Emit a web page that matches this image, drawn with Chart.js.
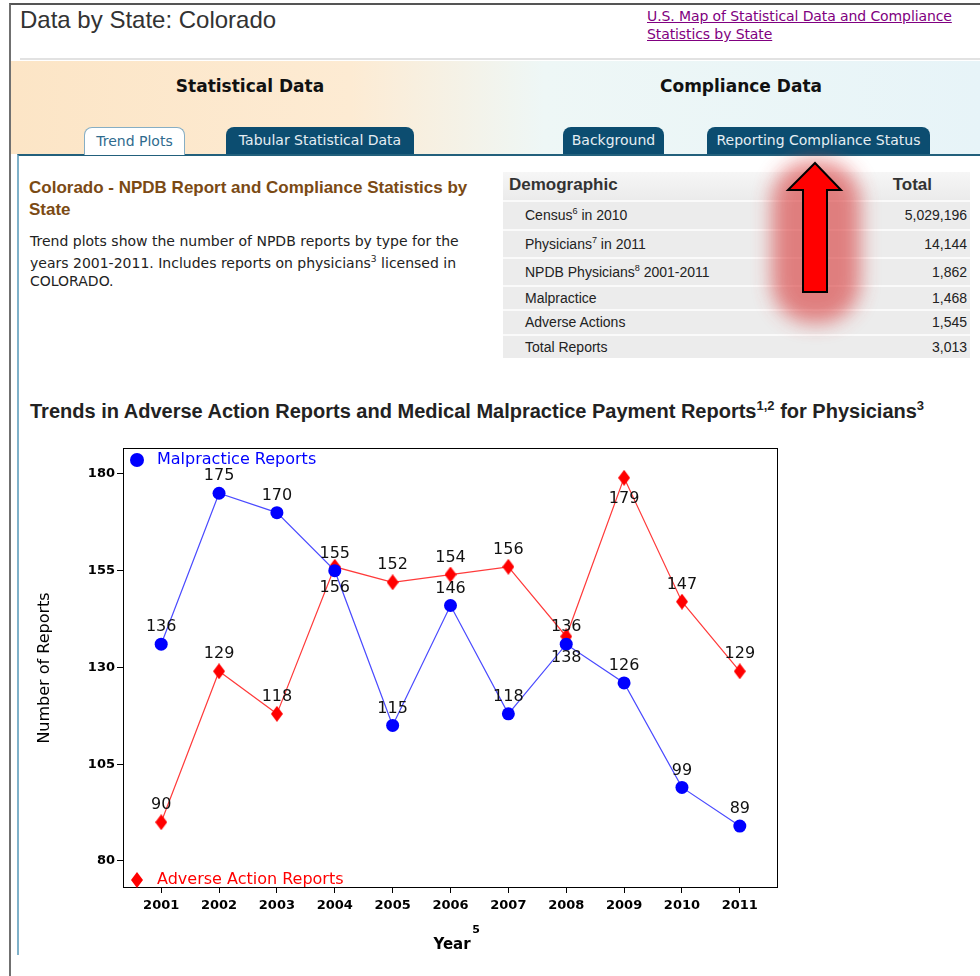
<!DOCTYPE html>
<html>
<head>
<meta charset="utf-8">
<script src="https://cdn.jsdelivr.net/npm/chart.js@4"></script>
<style>
  body { margin: 0; width: 980px; height: 976px; overflow: hidden; background: #fff; position: relative; font-family: "DejaVu Sans", Verdana, sans-serif; }
  .abs { position: absolute; white-space: nowrap; }
  #frame { left: 9px; top: 3px; width: 1000px; height: 1000px; border-left: 2px solid #707070; border-top: 2px solid #555; }
  #title { left: 20px; top: 6px; font: 24px "Liberation Sans", Arial, sans-serif; line-height: 28px; color: #333; }
  #maplink { left: 647px; top: 7px; line-height: 18px; font-size: 14px; letter-spacing: -0.1px; color: #800080; text-decoration: underline; }
  #sep { left: 20px; top: 58px; width: 960px; height: 2px; background: #e2e2e2; }
  #banner { left: 11px; top: 61px; width: 969px; height: 93px;
    background: linear-gradient(to right, #fce5c6 0%, #fdebd3 35%, #eef7f6 55%, #e7f4f8 100%); }
  .bhead { width: 240px; text-align: center; line-height: 20px; top: 76px; font-weight: bold; font-size: 17px; color: #111; }
  .tab { top: 127px; height: 27px; line-height: 27px; text-align: center; font-size: 14px; border-radius: 8px 8px 0 0; }
  .tab.dark { background: #0c4d70; color: #e6eef3; }
  .tab.on { background: #fff; color: #2f6b8e; border: 1px solid #86aec4; border-bottom: none; height: 28px; box-sizing: border-box; }
  #content { left: 17px; top: 154px; width: 980px; height: 801px; border-top: 2px solid #22607c; border-left: 2px solid #7fb1c9; box-sizing: border-box; }
  #lefthead { left: 29px; top: 177px; font: bold 17px "Liberation Sans", Arial, sans-serif; line-height: 22px; color: #7b4a14; white-space: normal; width: 460px; }
  .para { left: 30px; line-height: 18px; font-size: 14px; color: #222; }
  sup { font-size: 65%; line-height: 0; }
  #table { left: 503px; top: 172px; width: 467px; height: 186px; background: #ececec; }
  .row { position: absolute; left: 0; width: 467px; border-top: 2px solid #fafafa; box-sizing: border-box; font: 14px "Liberation Sans", Arial, sans-serif; color: #222; }
  .row span.l { position: absolute; left: 22px; }
  .row span.r { position: absolute; right: 3px; }
  #charthead { left: 30px; top: 399px; font: bold 20px "Liberation Sans", Arial, sans-serif; line-height: 24px; color: #222; }
  #chartbox { position: absolute; left: 20px; top: 430px; }
  #arrow { position: absolute; left: 750px; top: 145px; }
</style>
</head>
<body>
<div class="abs" id="frame"></div>
<div class="abs" id="title">Data by State: Colorado</div>
<div class="abs" id="maplink">U.S. Map of Statistical Data and Compliance<br>Statistics by State</div>
<div class="abs" id="sep"></div>
<div class="abs" id="banner"></div>
<div class="abs bhead" style="left:130px">Statistical Data</div>
<div class="abs bhead" style="left:621px">Compliance Data</div>
<div class="abs" id="content"></div>
<div class="abs tab on" style="left:84px;width:101px">Trend Plots</div>
<div class="abs tab dark" style="left:226px;width:188px">Tabular Statistical Data</div>
<div class="abs tab dark" style="left:563px;width:101px">Background</div>
<div class="abs tab dark" style="left:707px;width:223px">Reporting Compliance Status</div>

<div class="abs" id="lefthead">Colorado - NPDB Report and Compliance Statistics by State</div>
<div class="abs para" style="top:232px">Trend plots show the number of NPDB reports by type for the</div>
<div class="abs para" style="top:254px">years 2001-2011. Includes reports on physicians<sup>3</sup> licensed in</div>
<div class="abs para" style="top:272px">COLORADO.</div>

<div class="abs" id="table"></div>

<div class="abs" id="charthead">Trends in Adverse Action Reports and Medical Malpractice Payment Reports<sup>1,2</sup> for Physicians<sup>3</sup></div>

<div id="chartbox"><canvas id="trend" width="780" height="530"></canvas></div>

<svg id="arrow" width="140" height="200" viewBox="0 0 140 200">
  <defs><filter id="glow" x="-50%" y="-50%" width="200%" height="200%"><feGaussianBlur stdDeviation="10"/></filter></defs>
  <rect x="22" y="16" width="88" height="162" rx="40" fill="#d83a3a" opacity="0.62" filter="url(#glow)"/>
  <polygon points="65,18 91,45 77,45 77,147 53,147 53,45 38,45" fill="#ff0000" stroke="#000" stroke-width="2" stroke-linejoin="miter"/>
</svg>

<script>
// demographic table
var demoLabels = ['Census<sup>6</sup> in 2010', 'Physicians<sup>7</sup> in 2011', 'NPDB Physicians<sup>8</sup> 2001-2011', 'Malpractice', 'Adverse Actions', 'Total Reports'];
var demoTotals = ['5,029,196', '14,144', '1,862', '1,468', '1,545', '3,013'];

// chart data
var years = [2001, 2002, 2003, 2004, 2005, 2006, 2007, 2008, 2009, 2010, 2011];
var malpractice = [136, 175, 170, 155, 115, 146, 118, 136, 126, 99, 89];
var adverse = [90, 129, 118, 156, 152, 154, 156, 138, 179, 147, 129];
var yTicks = [80, 105, 130, 155, 180];

// build table rows
var table = document.getElementById('table');
var head = document.createElement('div');
head.className = 'row';
head.style.top = '0px';
head.style.height = '28px';
head.style.borderTop = 'none';
head.style.background = 'linear-gradient(#f6f6f6, #ebebeb)';
head.innerHTML = '<span style="position:absolute;left:6px;top:3px;font-weight:bold;font-size:17px;color:#333">Demographic</span>' +
  '<span style="position:absolute;right:38px;top:3px;font-weight:bold;font-size:17px;color:#333">Total</span>';
table.appendChild(head);

var rowTops = [28, 57, 85, 113, 137, 162];
var rowBottoms = [57, 85, 113, 137, 162, 186];
for (var i = 0; i < demoLabels.length; i++) {
  var r = document.createElement('div');
  r.className = 'row';
  r.style.top = rowTops[i] + 'px';
  r.style.height = (rowBottoms[i] - rowTops[i]) + 'px';
  var lh = rowBottoms[i] - rowTops[i] - 2;
  r.innerHTML = '<span class="l" style="line-height:' + lh + 'px">' + demoLabels[i] + '</span>' +
    '<span class="r" style="line-height:' + lh + 'px">' + demoTotals[i] + '</span>';
  table.appendChild(r);
}

function makeDiamond(w, h, color) {
  var c = document.createElement('canvas');
  c.width = w;
  c.height = h;
  var g = c.getContext('2d');
  g.fillStyle = color;
  g.beginPath();
  g.moveTo(w / 2, 0);
  g.lineTo(w, h / 2);
  g.lineTo(w / 2, h);
  g.lineTo(0, h / 2);
  g.closePath();
  g.fill();
  return c;
}

var diamond = makeDiamond(12, 16, '#ff0000');
var belowLabels = [3, 7, 8]; // adverse labels drawn under the marker

var decorations = {
  id: 'decorations',
  beforeDatasetsDraw: function (chart) {
    var ctx = chart.ctx, a = chart.chartArea;
    ctx.save();
    ctx.strokeStyle = '#000';
    ctx.lineWidth = 1;
    ctx.strokeRect(Math.round(a.left) + 0.5, Math.round(a.top) + 0.5, Math.round(a.right - a.left) - 1, Math.round(a.bottom - a.top) - 1);
    ctx.restore();
  },
  afterDatasetsDraw: function (chart) {
    var ctx = chart.ctx, a = chart.chartArea;
    ctx.save();
    ctx.textAlign = 'center';
    ctx.textBaseline = 'middle';
    ctx.font = '16px "DejaVu Sans"';
    ctx.fillStyle = '#111';

    var m = chart.getDatasetMeta(0).data;
    m.forEach(function (pt, j) {
      ctx.fillText(String(malpractice[j]), pt.x, pt.y - 17);
    });
    var d = chart.getDatasetMeta(1).data;
    d.forEach(function (pt, j) {
      var off = belowLabels.indexOf(j) >= 0 ? 21 : -17;
      ctx.fillText(String(adverse[j]), pt.x, pt.y + off);
    });

    // legend inside the plot
    ctx.textAlign = 'left';
    ctx.fillStyle = '#0000ff';
    ctx.beginPath();
    ctx.arc(a.left + 14, a.top + 12, 7, 0, Math.PI * 2);
    ctx.fill();
    ctx.fillText('Malpractice Reports', a.left + 34, a.top + 12);
    ctx.drawImage(diamond, a.left + 8, a.bottom - 16);
    ctx.fillStyle = '#ff0000';
    ctx.fillText('Adverse Action Reports', a.left + 34, a.bottom - 8);

    // axis titles
    ctx.fillStyle = '#000';
    ctx.textAlign = 'center';
    ctx.save();
    ctx.translate(25, (a.top + a.bottom) / 2);
    ctx.rotate(-Math.PI / 2);
    ctx.fillText('Number of Reports', 0, 0);
    ctx.restore();
    ctx.font = 'bold 15px "DejaVu Sans"';
    ctx.fillText('Year', 432, 515);
    ctx.font = 'bold 11px "DejaVu Sans"';
    ctx.fillText('5', 456, 500);
    ctx.restore();
  }
};

Chart.defaults.font.family = '"DejaVu Sans"';
Chart.defaults.color = '#000';

new Chart(document.getElementById('trend'), {
  type: 'line',
  data: {
    datasets: [{
      label: 'Malpractice Reports',
      data: years.map(function (y, i) { return { x: y, y: malpractice[i] }; }),
      borderColor: '#4a4aff',
      borderWidth: 1.2,
      pointStyle: 'circle',
      pointRadius: 6.5,
      pointBackgroundColor: '#0000ff',
      pointBorderColor: '#0000ff',
      pointBorderWidth: 0,
      tension: 0
    }, {
      label: 'Adverse Action Reports',
      data: years.map(function (y, i) { return { x: y, y: adverse[i] }; }),
      borderColor: '#ff3a3a',
      borderWidth: 1.2,
      pointStyle: diamond,
      pointRadius: 7,
      tension: 0
    }]
  },
  options: {
    responsive: false,
    animation: false,
    events: [],
    layout: { padding: { top: 18, right: 22, left: 0, bottom: 0 } },
    plugins: { legend: { display: false }, tooltip: { enabled: false } },
    scales: {
      x: {
        type: 'linear',
        min: 2000.34,
        max: 2011.66,
        afterBuildTicks: function (s) { s.ticks = years.map(function (v) { return { value: v }; }); },
        afterFit: function (s) { s.height = 72; },
        grid: { drawOnChartArea: false, drawTicks: true, tickLength: 5, color: '#000' },
        border: { display: false },
        ticks: { font: { size: 13, weight: 'bold' }, color: '#000', padding: 5, maxRotation: 0, autoSkip: false,
          callback: function (v) { return String(v); } }
      },
      y: {
        min: 73,
        max: 186.7,
        afterBuildTicks: function (s) { s.ticks = yTicks.map(function (v) { return { value: v }; }); },
        afterFit: function (s) { s.width = 103; },
        grid: { drawOnChartArea: false, drawTicks: true, tickLength: 6, color: '#000' },
        border: { display: false },
        ticks: { font: { size: 13, weight: 'bold' }, color: '#000', padding: 2,
          callback: function (v) { return String(v); } }
      }
    }
  },
  plugins: [decorations]
});
</script>
</body>
</html>
